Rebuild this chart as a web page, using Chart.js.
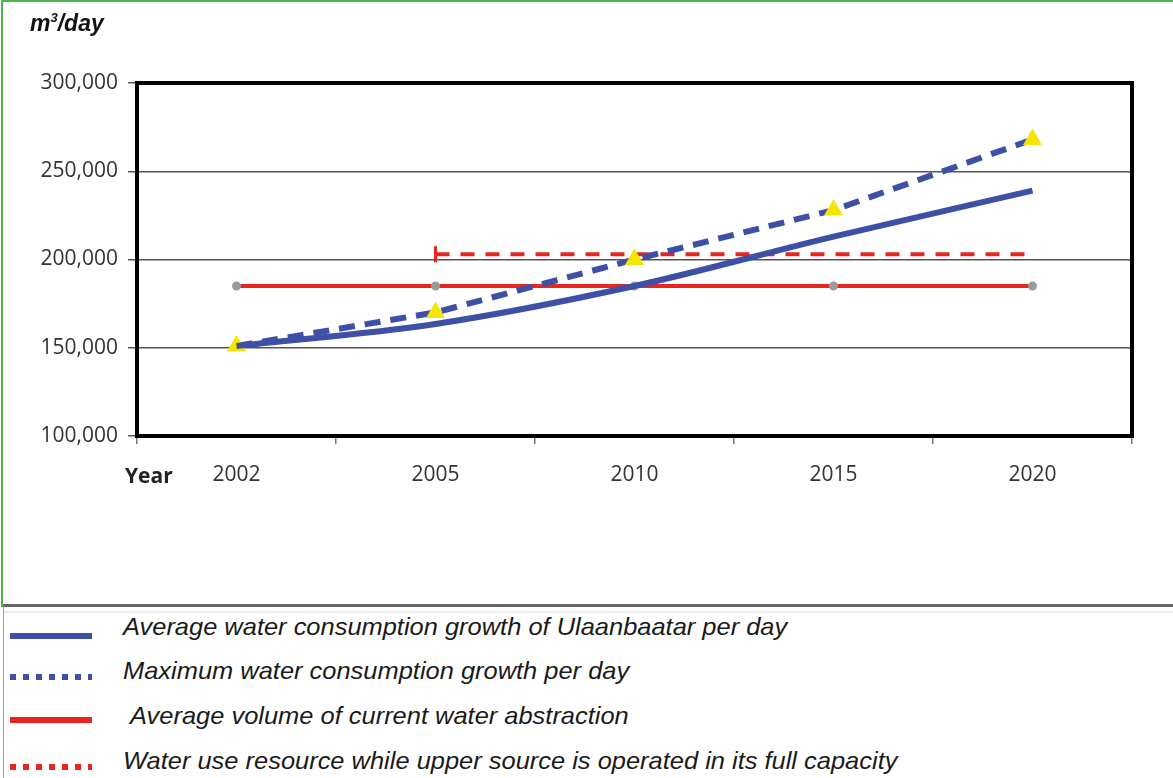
<!DOCTYPE html>
<html>
<head>
<meta charset="utf-8">
<script src="https://cdn.jsdelivr.net/npm/chart.js@4.4.1/dist/chart.umd.min.js"></script>
<style>
  html, body { margin: 0; padding: 0; background: #fff; }
  #page { position: relative; width: 1173px; height: 778px; overflow: hidden; }
  #frame { position: absolute; left: 1px; top: 0px; width: 1172px; height: 605px;
           border-top: 2px solid #4db34d; border-left: 2px solid #4db34d; }
  #chart-wrap { position: absolute; left: 0; top: 0; width: 1173px; height: 600px; }
  #unit { position: absolute; left: 30px; top: 10px; font: italic bold 23px "Liberation Sans", Arial, sans-serif; color: #111; }
  #unit sup { font-size: 13px; }
  #year { position: absolute; left: 125px; top: 461px; font: bold 21px "Open Sans", sans-serif; color: #222; }
  #legend { position: absolute; left: 3px; top: 604px; width: 1170px; height: 174px;
            border-top: 3px solid #666; border-left: 1px solid #8a8; }
  #legend:before { content: ""; position: absolute; left: 0; right: 0; top: 4px; height: 2px; background: #eee; }
  .row { position: absolute; left: 0; height: 40px; }
  .swatch { position: absolute; left: 6px; width: 82px; height: 6px; }
  .label { position: absolute; left: 119px; white-space: nowrap; transform-origin: left center; transform: scaleX(1.06);
           font: italic 24px "Liberation Sans", Arial, sans-serif; color: #1a1a1a; }
</style>
</head>
<body>
<div id="page">
  <div id="frame"></div>
  <div id="chart-wrap"><canvas id="water-chart"></canvas></div>
  <div id="unit">m<sup>3</sup>/day</div>
  <div id="year">Year</div>
  <div id="legend"></div>
</div>
<script>
// water demand forecast for Ulaanbaatar, m3/day
const years = ["2002", "2005", "2010", "2015", "2020"];
const avgConsumption = [151000, 163500, 185000, 213000, 239000];
const maxConsumption = [151000, 170000, 200000, 228000, 268000];
const currentAbstraction = [185000, 185000, 185000, 185000, 185000];
const fullCapacity = [null, 203000, 203000, 203000, 203000];
const yTicks = [100000, 150000, 200000, 250000, 300000];

const legendLabels = [
  "Average water consumption growth of Ulaanbaatar per day",
  "Maximum water consumption growth per day",
  " Average volume of current water abstraction",
  "Water use resource while upper source is operated in its full capacity",
];

const BLUE = "#3e4fa6";
const RED = "#e8261f";

// thick black frame round the plot area
const plotFrame = {
  id: "plotFrame",
  afterDatasetsDraw(chart) {
    const { ctx, chartArea: a } = chart;
    ctx.save();
    ctx.strokeStyle = "#000";
    ctx.lineWidth = 4;
    ctx.strokeRect(a.left, a.top, a.right - a.left, a.bottom - a.top);
    ctx.restore();
  },
};

const ctx = document.getElementById("water-chart").getContext("2d");

const chart = new Chart(ctx, {
  type: "line",
  data: {
    labels: years,
    datasets: [
      {
        label: legendLabels[0],
        data: avgConsumption,
        borderColor: BLUE,
        borderWidth: 6,
        cubicInterpolationMode: "monotone",
        pointRadius: 0,
      },
      {
        label: legendLabels[1],
        data: maxConsumption,
        borderColor: BLUE,
        borderWidth: 6,
        borderDash: [16, 10],
        tension: 0,
        pointStyle: "triangle",
        pointRadius: 5,
        pointBackgroundColor: "#f4e600",
        pointBorderColor: "#f4e600",
      },
      {
        label: legendLabels[2],
        data: currentAbstraction,
        borderColor: RED,
        borderWidth: 4,
        pointRadius: 2.5,
        pointBackgroundColor: "#9a9a9a",
        pointBorderColor: "#9a9a9a",
      },
      {
        label: legendLabels[3],
        data: fullCapacity,
        borderColor: RED,
        borderWidth: 4,
        borderDash: [14, 11],
        pointStyle: "line",
        rotation: 90,
        pointRadius: [0, 8, 0, 0, 0],
        pointBorderWidth: 3,
        pointBorderColor: RED,
      },
    ],
  },
  options: {
    responsive: true,
    maintainAspectRatio: false,
    animation: false,
    events: [],
    layout: { padding: { left: 0, top: 83, right: 41, bottom: 104 } },
    plugins: {
      legend: { display: false },
      tooltip: { enabled: false },
    },
    scales: {
      x: {
        offset: true,
        grid: {
          offset: true,
          drawOnChartArea: false,
          drawTicks: true,
          tickLength: 8,
          color: "#777",
          lineWidth: 1.5,
        },
        border: { display: false },
        ticks: {
          padding: 18,
          color: "#333",
          font: { family: "Open Sans", size: 21 },
        },
        afterFit(scale) {
          scale.height = 60;
        },
      },
      y: {
        min: 100000,
        max: 300000,
        afterBuildTicks(scale) {
          scale.ticks = yTicks.map((v) => ({ value: v }));
        },
        grid: {
          color: "#555",
          lineWidth: 1.5,
          drawTicks: true,
          tickLength: 9,
        },
        border: { display: false },
        ticks: {
          padding: 10,
          color: "#333",
          font: { family: "Open Sans", size: 21 },
          callback: (v) => Number(v).toLocaleString("en-US"),
        },
        afterFit(scale) {
          scale.width = 137;
        },
      },
    },
  },
  plugins: [plotFrame],
});

// legend rows below the chart
const swatchStyles = [
  `background:${BLUE};`,
  `background:repeating-linear-gradient(90deg, ${BLUE} 0 6px, transparent 6px 13px);`,
  `background:${RED};`,
  `background:repeating-linear-gradient(90deg, ${RED} 0 6px, transparent 6px 13px);`,
];
const rowTops = [6, 50, 95, 140];
const legend = document.getElementById("legend");
legendLabels.forEach((text, i) => {
  const row = document.createElement("div");
  row.className = "row";
  row.style.top = rowTops[i] + "px";
  row.innerHTML =
    `<div class="swatch" style="top:${i === 0 ? 20 : i === 2 ? 15 : 17}px;${swatchStyles[i]}"></div>` +
    `<div class="label" style="top:0">${text.replace(/^ /, "&nbsp;")}</div>`;
  legend.appendChild(row);
});
</script>
</body>
</html>
